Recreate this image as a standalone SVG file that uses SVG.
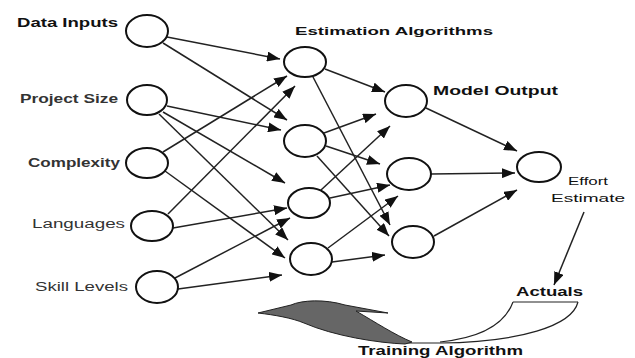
<svg xmlns="http://www.w3.org/2000/svg" width="635" height="358" viewBox="0 0 635 358">
<defs>
<marker id="ah" markerUnits="userSpaceOnUse" markerWidth="14" markerHeight="10" refX="13" refY="5" orient="auto">
<path d="M0,0 L13,5 L0,10 Z" fill="#111"/>
</marker>
<style>
.n{fill:#fff;stroke:#111;stroke-width:2}
.e{stroke:#222;stroke-width:1.5;fill:none;marker-end:url(#ah)}
.t{font-family:"Liberation Sans",Arial,sans-serif;fill:#111}
.b{font-weight:bold}
.l{fill:#333}
</style>
</defs>
<rect width="635" height="358" fill="#fff"/>
<g id="connectors">
<line class="e" x1="167" y1="37" x2="280" y2="59"/>
<line class="e" x1="163" y1="43" x2="287" y2="120"/>
<line class="e" x1="167" y1="106" x2="281" y2="130"/>
<line class="e" x1="163" y1="112" x2="285" y2="183"/>
<line class="e" x1="159" y1="114" x2="288" y2="240"/>
<line class="e" x1="163" y1="152" x2="287" y2="76"/>
<line class="e" x1="165" y1="171" x2="285" y2="258"/>
<line class="e" x1="168" y1="214" x2="295" y2="86"/>
<line class="e" x1="173" y1="228" x2="287" y2="208"/>
<line class="e" x1="175" y1="278" x2="290" y2="218"/>
<line class="e" x1="178" y1="289" x2="282" y2="275"/>
<line class="e" x1="325" y1="69" x2="385" y2="92"/>
<line class="e" x1="313" y1="77" x2="390" y2="225"/>
<line class="e" x1="324" y1="133" x2="376" y2="114"/>
<line class="e" x1="326" y1="146" x2="380" y2="164"/>
<line class="e" x1="317" y1="156" x2="389" y2="236"/>
<line class="e" x1="321" y1="190" x2="390" y2="126"/>
<line class="e" x1="330" y1="198" x2="390" y2="185"/>
<line class="e" x1="328" y1="248" x2="398" y2="196"/>
<line class="e" x1="332" y1="262" x2="385" y2="255"/>
<line class="e" x1="426" y1="108" x2="517" y2="151"/>
<line class="e" x1="431" y1="174" x2="515" y2="173"/>
<line class="e" x1="434" y1="236" x2="517" y2="190"/>
<line class="e" x1="584" y1="212" x2="554" y2="285"/>
<g id="training-loop">
<line x1="513" y1="302" x2="578" y2="302" stroke="#222" stroke-width="1.2"/>
<path d="M578,302 C572,326 520,342 440,343 L405,343" fill="none" stroke="#222" stroke-width="1.2"/>
<path d="M513,302 C505,324 480,338 440,342" fill="none" stroke="#222" stroke-width="1.2"/>
<path d="M258,313 L291,305 C302,300 325,299 345,305 L388,313 L356,311 C375,322 395,335 412,342 L405,344 C378,343 334,336 304,323 C292,318 275,315 258,313 Z" fill="#666" stroke="#222" stroke-width="1"/>
</g>
</g>
<g id="in-data"><ellipse class="n" cx="147" cy="31" rx="21" ry="16"/><text class="t b" x="17" y="27" font-size="12" textLength="101" lengthAdjust="spacingAndGlyphs">Data Inputs</text></g>
<g id="in-size"><ellipse class="n" cx="147" cy="100" rx="20" ry="15"/><text class="t b l" x="20" y="103" font-size="12" textLength="98" lengthAdjust="spacingAndGlyphs">Project Size</text></g>
<g id="in-complexity"><ellipse class="n" cx="147" cy="163" rx="21" ry="15"/><text class="t b l" x="28" y="167" font-size="12" textLength="92" lengthAdjust="spacingAndGlyphs">Complexity</text></g>
<g id="in-languages"><ellipse class="n" cx="152" cy="226" rx="21" ry="15"/><text class="t l" x="32" y="228" font-size="12" textLength="93" lengthAdjust="spacingAndGlyphs">Languages</text></g>
<g id="in-skill"><ellipse class="n" cx="157" cy="287" rx="21" ry="16"/><text class="t l" x="35" y="291" font-size="12" textLength="93" lengthAdjust="spacingAndGlyphs">Skill Levels</text></g>
<g id="est-label"><text class="t b" x="295" y="35" font-size="11" textLength="198" lengthAdjust="spacingAndGlyphs">Estimation Algorithms</text></g>
<g id="h1"><ellipse class="n" cx="305" cy="62" rx="21" ry="15"/></g>
<g id="h2"><ellipse class="n" cx="305" cy="141" rx="21" ry="16"/></g>
<g id="h3"><ellipse class="n" cx="309" cy="203" rx="21" ry="15"/></g>
<g id="h4"><ellipse class="n" cx="311" cy="259" rx="21" ry="16"/></g>
<g id="out-label"><text class="t b" x="433" y="95" font-size="12" textLength="125" lengthAdjust="spacingAndGlyphs">Model Output</text></g>
<g id="o1"><ellipse class="n" cx="406" cy="101" rx="21" ry="16"/></g>
<g id="o2"><ellipse class="n" cx="409" cy="174" rx="22" ry="16"/></g>
<g id="o3"><ellipse class="n" cx="413" cy="242" rx="21" ry="16"/></g>
<g id="effort"><ellipse class="n" cx="539" cy="167" rx="22" ry="15"/>
<text class="t" x="568" y="185" font-size="11" textLength="40" lengthAdjust="spacingAndGlyphs">Effort</text>
<text class="t" x="551" y="202" font-size="11" textLength="74" lengthAdjust="spacingAndGlyphs">Estimate</text></g>
<g id="actuals"><text class="t b" x="516" y="296" font-size="12" textLength="67" lengthAdjust="spacingAndGlyphs">Actuals</text></g>
<g id="training"><text class="t b" x="358" y="355" font-size="12" textLength="165" lengthAdjust="spacingAndGlyphs">Training Algorithm</text></g>
</svg>
